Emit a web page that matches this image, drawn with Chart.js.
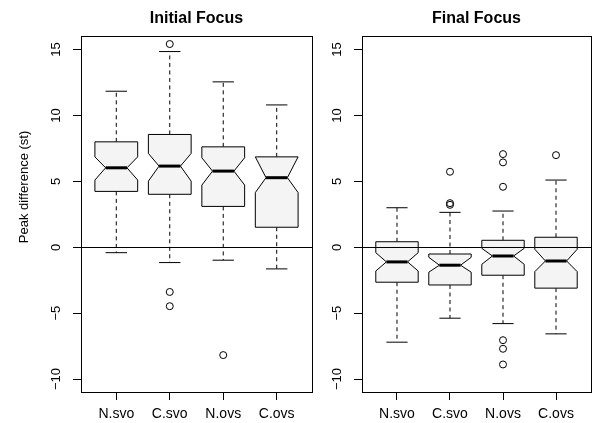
<!DOCTYPE html>
<html>
<head>
<meta charset="utf-8">
<script src="https://cdn.jsdelivr.net/npm/chart.js@4.4.1/dist/chart.umd.min.js"></script>
<style>
  html, body { margin: 0; padding: 0; background: #fff; overflow: hidden; }
  #wrap { position: relative; width: 597px; height: 423px; }
  canvas { position: absolute; top: 0; }
</style>
</head>
<body>
<div id="wrap">
  <canvas id="c1" width="330" height="423" style="left:0;width:330px;height:423px"></canvas>
  <canvas id="c2" width="267" height="423" style="left:330px;width:267px;height:423px"></canvas>
</div>
<script>
// ---------------- DATA ----------------
const categories = ['N.svo', 'C.svo', 'N.ovs', 'C.ovs'];
const yTicks = [-10, -5, 0, 5, 10, 15];
const panelTitles = ['Initial Focus', 'Final Focus'];
const yAxisTitle = 'Peak difference (st)';

// Initial Focus
const initWhiskLow  = [-0.41, -1.16, -0.98, -1.64];
const initQ1        = [4.24, 4.02, 3.10, 1.52];
const initNotchLow  = [5.10, 5.02, 4.72, 4.15];
const initMedian    = [6.03, 6.16, 5.78, 5.28];
const initNotchHigh = [6.86, 7.12, 6.79, 6.86];
const initQ3        = [8.00, 8.56, 7.62, 6.86];
const initWhiskHigh = [11.84, 14.85, 12.55, 10.80];
const initOutliers  = [[], [15.42, -3.39, -4.47], [-8.18], []];

// Final Focus
const finWhiskLow  = [-7.20, -5.38, -5.79, -6.57];
const finQ1        = [-2.65, -2.86, -2.12, -3.10];
const finNotchLow  = [-1.80, -1.89, -1.29, -1.85];
const finMedian    = [-1.11, -1.36, -0.66, -1.04];
const finNotchHigh = [-0.41, -0.76, -0.08, -0.15];
const finQ3        = [0.42, -0.51, 0.53, 0.76];
const finWhiskHigh = [3.00, 2.65, 2.75, 5.10];
const finOutliers  = [[], [5.73, 3.35, 3.22], [7.07, 6.44, 4.59, -7.05, -7.70, -8.89], [6.99]];

// ---------------- RENDER ----------------
Chart.defaults.font.family = '"Liberation Sans", Arial, Helvetica, sans-serif';
Chart.defaults.color = '#000';
Chart.defaults.animation = false;

const FONT = '"Liberation Sans", Arial, Helvetica, sans-serif';
const BOX_W = 0.8, CAP_W = 0.4, NOTCH_FRAC = 0.5;

function fmt(v) { return v < 0 ? '\u2212' + Math.abs(v) : String(v); }

const boxPlugin = {
  id: 'rbox',
  afterDatasetsDraw(chart) {
    const o = chart.options.plugins.rbox;
    const { ctx, chartArea: ca } = chart;
    const xs = chart.scales.x, ys = chart.scales.y;
    ctx.save();
    ctx.beginPath();
    ctx.rect(ca.left, ca.top, ca.right - ca.left, ca.bottom - ca.top);
    ctx.clip();
    for (let i = 0; i < categories.length; i++) {
      const c = i + 1;
      const X = v => xs.getPixelForValue(v);
      const Y = v => ys.getPixelForValue(v);
      // whiskers (dashed)
      ctx.strokeStyle = '#000';
      ctx.lineWidth = 1;
      ctx.setLineDash([4, 3.5]);
      ctx.beginPath();
      ctx.moveTo(X(c), Y(o.q3[i])); ctx.lineTo(X(c), Y(o.wh[i]));
      ctx.moveTo(X(c), Y(o.q1[i])); ctx.lineTo(X(c), Y(o.wl[i]));
      ctx.stroke();
      ctx.setLineDash([]);
      // caps
      ctx.beginPath();
      ctx.moveTo(X(c - CAP_W / 2), Y(o.wh[i])); ctx.lineTo(X(c + CAP_W / 2), Y(o.wh[i]));
      ctx.moveTo(X(c - CAP_W / 2), Y(o.wl[i])); ctx.lineTo(X(c + CAP_W / 2), Y(o.wl[i]));
      ctx.stroke();
      // notched box
      const w = BOX_W / 2, nw = w * NOTCH_FRAC;
      const pts = [
        [c - w, o.q1[i]], [c + w, o.q1[i]], [c + w, o.nl[i]], [c + nw, o.med[i]],
        [c + w, o.nh[i]], [c + w, o.q3[i]], [c - w, o.q3[i]], [c - w, o.nh[i]],
        [c - nw, o.med[i]], [c - w, o.nl[i]]
      ];
      ctx.beginPath();
      pts.forEach((p, k) => k ? ctx.lineTo(X(p[0]), Y(p[1])) : ctx.moveTo(X(p[0]), Y(p[1])));
      ctx.closePath();
      ctx.fillStyle = '#f4f4f4';
      ctx.fill();
      ctx.lineWidth = 1;
      ctx.stroke();
      // median
      ctx.lineWidth = 3;
      ctx.beginPath();
      ctx.moveTo(X(c - nw), Y(o.med[i])); ctx.lineTo(X(c + nw), Y(o.med[i]));
      ctx.stroke();
    }
    // zero reference line
    ctx.lineWidth = 1;
    ctx.beginPath();
    const y0 = Math.round(ys.getPixelForValue(0)) + 0.5;
    ctx.moveTo(ca.left, y0); ctx.lineTo(ca.right, y0);
    ctx.stroke();
    ctx.restore();

    // frame
    ctx.save();
    ctx.strokeStyle = '#000';
    ctx.lineWidth = 1;
    ctx.strokeRect(Math.round(ca.left) + 0.5, Math.round(ca.top) + 0.5,
                   Math.round(ca.right - ca.left), Math.round(ca.bottom - ca.top));
    // panel title
    ctx.fillStyle = '#000';
    ctx.font = 'bold 16px ' + FONT;
    ctx.textAlign = 'center';
    ctx.textBaseline = 'middle';
    ctx.fillText(o.title, (ca.left + ca.right) / 2, 19);
    // y axis title
    if (o.yTitle) {
      ctx.font = '13px ' + FONT;
      ctx.translate(24, 187);
      ctx.rotate(-Math.PI / 2);
      ctx.fillText(o.yTitle, 0, 0);
    }
    ctx.restore();
  }
};

function makePanel(id, title, yAxisWidth, rightPad, wl, q1, nl, med, nh, q3, wh, outl, yTitle) {
  const pts = [];
  outl.forEach((arr, i) => arr.forEach(v => pts.push({ x: i + 1, y: v })));
  return new Chart(document.getElementById(id), {
    type: 'scatter',
    data: {
      datasets: [{
        data: pts,
        pointStyle: 'circle',
        pointRadius: 3.5,
        pointHoverRadius: 3.5,
        backgroundColor: 'rgba(0,0,0,0)',
        borderColor: '#000',
        borderWidth: 1
      }]
    },
    options: {
      responsive: false,
      animation: false,
      layout: { padding: { left: 0, right: rightPad, top: 36, bottom: 0 } },
      plugins: {
        legend: { display: false },
        tooltip: { enabled: false },
        title: { display: false },
        rbox: { title, yTitle, wl, q1, nl, med, nh, q3, wh }
      },
      scales: {
        x: {
          type: 'linear',
          min: 0.34, max: 4.66,
          afterBuildTicks: s => { s.ticks = categories.map((c, i) => ({ value: i + 1 })); },
          afterFit: s => { s.height = 31; },
          ticks: {
            callback: v => categories[Math.round(v) - 1],
            font: { size: 14 },
            padding: 6,
            maxRotation: 0, minRotation: 0, autoSkip: false
          },
          grid: { display: true, drawOnChartArea: false, drawTicks: true, tickLength: 8, color: '#000', lineWidth: 1 },
          border: { display: false }
        },
        y: {
          type: 'linear',
          min: -10.98, max: 16.03,
          afterBuildTicks: s => { s.ticks = yTicks.map(v => ({ value: v })); },
          afterFit: s => { s.width = yAxisWidth; },
          ticks: {
            callback: v => fmt(v),
            font: { size: 13 },
            minRotation: 90, maxRotation: 90,
            crossAlign: 'center',
            padding: 6,
            autoSkip: false
          },
          grid: { display: true, drawOnChartArea: false, drawTicks: true, tickLength: 8, color: '#000', lineWidth: 1 },
          border: { display: false }
        }
      }
    },
    plugins: [boxPlugin]
  });
}

makePanel('c1', panelTitles[0], 81, 18,
  initWhiskLow, initQ1, initNotchLow, initMedian, initNotchHigh, initQ3, initWhiskHigh, initOutliers, yAxisTitle);
makePanel('c2', panelTitles[1], 32, 6,
  finWhiskLow, finQ1, finNotchLow, finMedian, finNotchHigh, finQ3, finWhiskHigh, finOutliers, null);
</script>
</body>
</html>
